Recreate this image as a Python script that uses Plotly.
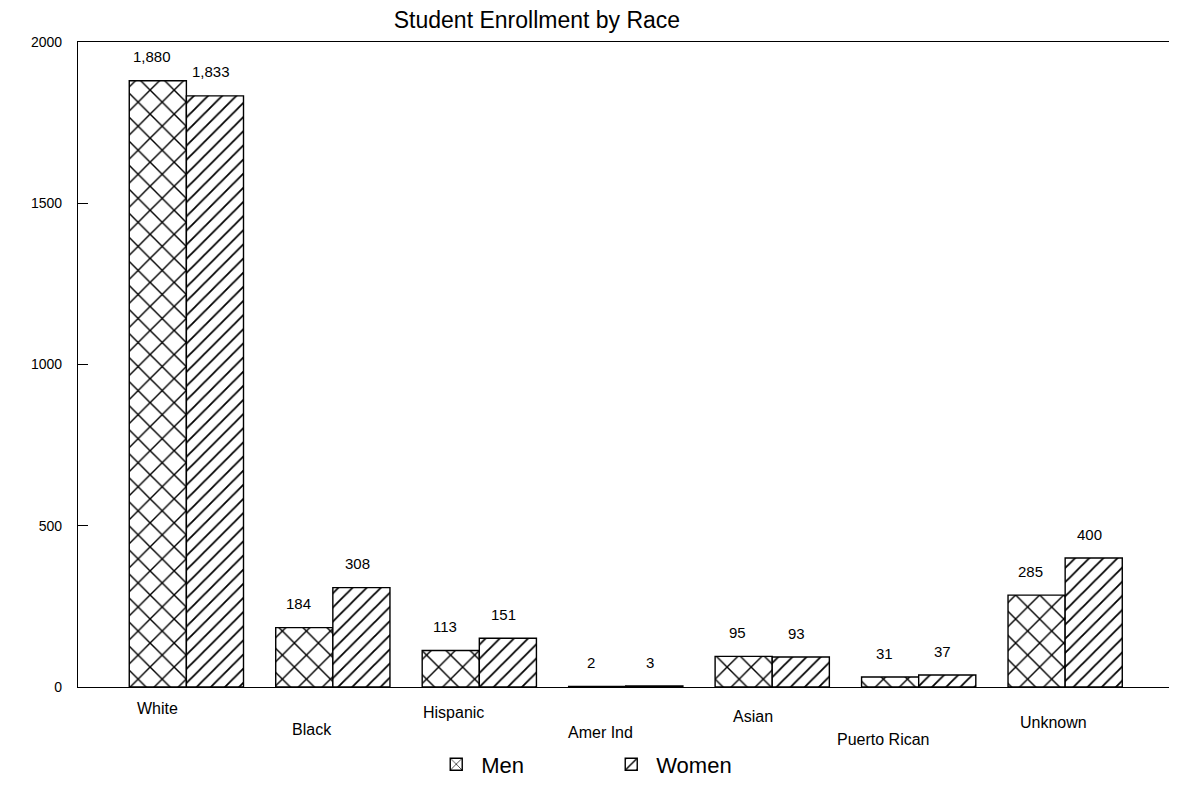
import plotly.graph_objects as go

races = ["White", "Black", "Hispanic", "Amer Ind", "Asian", "Puerto Rican", "Unknown"]
men = [1880, 184, 113, 2, 95, 31, 285]
women = [1833, 308, 151, 3, 93, 37, 400]
y_ticks = [0, 500, 1000, 1500, 2000]

FONT = "Liberation Sans, Arial, sans-serif"

# staggered category labels: pixel offsets (left, down) from each category's zero point
label_dx = [-29, -21, -26, -25, -19, -35, -12]
label_dy = [21, 42, 25, 45, 29, 52, 35]

fig = go.Figure()
fig.add_trace(go.Bar(
    x=races, y=men, name="Men",
    marker=dict(color="white", line=dict(color="black", width=1.4),
                pattern=dict(shape="x", fgcolor="black", fgopacity=1, bgcolor="white",
                             fillmode="replace", size=17, solidity=0.16)),
))
fig.add_trace(go.Bar(
    x=races, y=women, name="Women",
    marker=dict(color="white", line=dict(color="black", width=1.4),
                pattern=dict(shape="/", fgcolor="black", fgopacity=1, bgcolor="white",
                             fillmode="replace", size=10, solidity=0.18)),
))

for i, r in enumerate(races):
    # value labels floating above the bars
    for val, shift in ((men[i], -0.2), (women[i], 0.2)):
        fig.add_annotation(
            x=i + shift, y=val, text=f"{val:,}", showarrow=False,
            xshift=-5, yshift=24, font=dict(family=FONT, size=15, color="black"),
        )
    fig.add_annotation(
        x=i, y=0, text=r, showarrow=False,
        xshift=label_dx[i], yshift=-label_dy[i],
        font=dict(family=FONT, size=16, color="black"),
    )

fig.update_layout(
    width=1169, height=781,
    margin=dict(l=70, r=2, t=34, b=102),
    paper_bgcolor="white", plot_bgcolor="white",
    barmode="group", bargap=0.22, bargroupgap=0,
    title=dict(text="Student Enrollment by Race", x=0.4525, xanchor="center",
               y=0.985, yanchor="middle",
               font=dict(family=FONT, size=23, color="black")),
    font=dict(family=FONT, color="black"),
    showlegend=True,
    legend=dict(orientation="h", x=0.322, xanchor="left", y=-0.12, yanchor="middle",
                font=dict(family=FONT, size=22), entrywidth=120, entrywidthmode="pixels",
                itemwidth=40, bgcolor="rgba(0,0,0,0)"),
    xaxis=dict(range=[-0.74, 6.75], showticklabels=False, ticks="",
               showline=True, linecolor="black", linewidth=1.3, mirror=True, showgrid=False),
    yaxis=dict(range=[0, 2000], tickvals=y_ticks, ticks="inside", ticklen=10, tickcolor="black",
               showline=True, linecolor="black", linewidth=1.3, mirror=True, showgrid=False,
               zeroline=False, ticklabelstandoff=12, tickfont=dict(family=FONT, size=14)),
)

fig.write_html("out.html")
